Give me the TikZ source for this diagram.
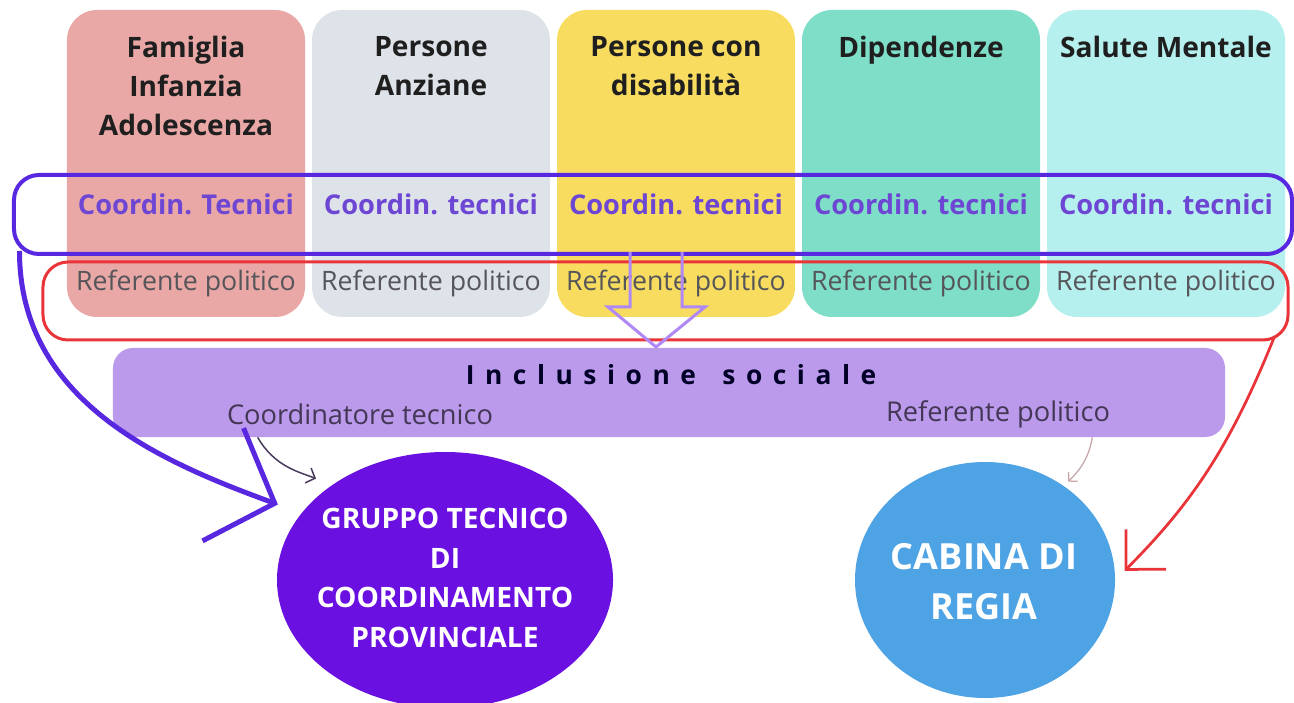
\documentclass[tikz,border=0pt]{standalone}
\usepackage{fontspec}
\setmainfont{Open Sans}
\usepackage{tikz}
\usepackage{xcolor}
\usetikzlibrary{shapes, positioning, arrows.meta}

\definecolor{famcol}{RGB}{233,168,166}
\definecolor{anzcol}{RGB}{221,227,233}
\definecolor{discol}{RGB}{247,220,96}
\definecolor{dipcol}{RGB}{126,222,200}
\definecolor{salcol}{RGB}{182,240,238}
\definecolor{tecblue}{RGB}{88,40,225}
\definecolor{polred}{RGB}{233,52,58}
\definecolor{lilac}{RGB}{187,154,236}
\definecolor{hollowlilac}{RGB}{176,136,245}
\definecolor{gtcpcol}{RGB}{106,16,224}
\definecolor{cdrcol}{RGB}{78,163,228}
\definecolor{coordtxt}{RGB}{110,70,212}
\definecolor{reftxt}{RGB}{85,85,90}

\begin{document}
\begin{tikzpicture}[x=0.2mm, y=-0.2mm,
        area/.style={rounded corners=6mm, minimum width=47.6mm, minimum height=61.4mm, inner sep=0pt},
        areatitle/.style={font=\bfseries\fontsize{16}{22}\selectfont, align=center, text=black!88, inner sep=0pt, anchor=north},
        coordtext/.style={font=\bfseries\fontsize{15.5}{17}\selectfont, text=coordtxt, inner sep=0pt},
        reftext/.style={font=\fontsize{15.2}{17}\selectfont, text=reftxt, inner sep=0pt},
        circtext/.style={font=\bfseries\fontsize{16}{22.5}\selectfont, align=center, text=white, inner sep=0pt}]
        \useasboundingbox (0,0) rectangle (1294,703);

        % the five areas
        \node[area, fill=famcol] (fam) at (186,163.5) {};
        \node[area, fill=anzcol] (anz) at (431,163.5) {};
        \node[area, fill=discol] (dis) at (676,163.5) {};
        \node[area, fill=dipcol] (dip) at (921,163.5) {};
        \node[area, fill=salcol] (sal) at (1166,163.5) {};

        \node[areatitle] (famt) at (186,36) {Famiglia\\Infanzia\\Adolescenza};
        \node[areatitle] (anzt) at (431,36) {Persone\\Anziane};
        \node[areatitle] (dist) at (676,36) {Persone con\\disabilità};
        \node[areatitle] (dipt) at (921,36) {Dipendenze};
        \node[areatitle] (salt) at (1166,36) {Salute Mentale};

        \node[coordtext] (famc) at (186,204) {Coordin. Tecnici};
        \node[coordtext] (anzc) at (431,204) {Coordin. tecnici};
        \node[coordtext] (disc) at (676,204) {Coordin. tecnici};
        \node[coordtext] (dipc) at (921,204) {Coordin. tecnici};
        \node[coordtext] (salc) at (1166,204) {Coordin. tecnici};

        \node[reftext] (famr) at (186,283) {Referente politico};
        \node[reftext] (anzr) at (431,283) {Referente politico};
        \node[reftext] (disr) at (676,283) {Referente politico};
        \node[reftext] (dipr) at (921,283) {Referente politico};
        \node[reftext] (salr) at (1166,283) {Referente politico};

        % rows
        \node[draw=tecblue, line width=0.8mm, rounded corners=5mm, minimum width=255.6mm, minimum height=15.8mm] (coordrow) at (653,214.5) {};
        \node[draw=polred, line width=0.6mm, rounded corners=5mm, minimum width=249mm, minimum height=15.6mm] (refrow) at (665.5,301) {};

        % hollow arrow
        \draw[hollowlilac, line width=0.6mm] (630,252) -- (630,307) -- (608,307) -- (656,347) -- (705,307) -- (682,307) -- (682,252);

        % inclusione sociale
        \node[fill=lilac, rounded corners=4mm, minimum width=222.4mm, minimum height=17.8mm] (incl) at (669,392.5) {};
        \node[font=\bfseries\fontsize{15}{17}\selectfont\addfontfeatures{LetterSpace=40}, text=black!85!blue, inner sep=0pt] (inclt) at (671,375) {Inclusione\quad sociale};
        \node[font=\fontsize{15.5}{17}\selectfont, text=black!55!lilac!80!black, inner sep=0pt] (inclc) at (360,414) {Coordinatore tecnico};
        \node[font=\fontsize{15.5}{17}\selectfont, text=black!55!lilac!80!black, inner sep=0pt] (inclr) at (998,414) {Referente politico};

        % circles
        \node[ellipse, fill=gtcpcol, minimum width=67.2mm, minimum height=51.2mm, inner sep=0pt] (gtcp) at (445,580) {};
        \node[circtext] (gtcpt) at (445,578) {GRUPPO TECNICO\\DI\\COORDINAMENTO\\PROVINCIALE};
        \node[ellipse, fill=cdrcol, minimum width=52mm, minimum height=47.2mm, inner sep=0pt] (cdr) at (985,580) {};
        \node[circtext, font=\bfseries\fontsize{20.5}{28.5}\selectfont] (cdrt) at (984,582) {CABINA DI\\REGIA};

        % arrows
        \draw[tecblue, line width=1mm, shorten >=5mm, -{Straight Barb[length=11mm, width=24mm]}]
            ([xshift=1.5mm, yshift=1mm]coordrow.south west) to[out=-90, in=160] (gtcp.155);
        \draw[polred, line width=0.55mm, shorten >=2.6mm, -{Straight Barb[length=5.7mm, width=11.3mm]}]
            ([xshift=-3mm, yshift=1mm]refrow.south east) to[out=-112, in=45] (cdr.east);
        \draw[black!45!lilac!70!black, line width=0.3mm, shorten >=3.4mm, -{Straight Barb[length=1.5mm, width=3.2mm]}]
            ([xshift=29mm]incl.south west) to[out=-60, in=158] (gtcp.140);
        \draw[polred!30!gray!60, line width=0.25mm, shorten >=1.2mm, -{Straight Barb[length=1.2mm, width=2.6mm]}]
            ([xshift=-26.6mm]incl.south east) to[out=-100, in=45] (cdr.50);
    \end{tikzpicture}
\end{document}
